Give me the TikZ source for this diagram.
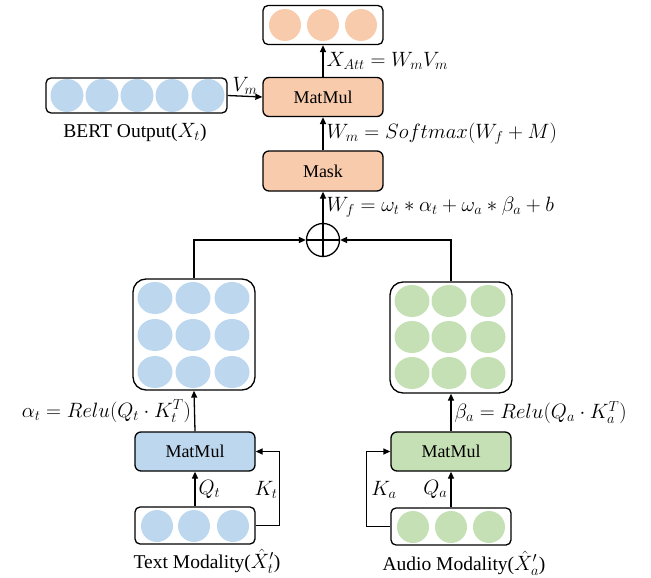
\documentclass[tikz,border=0pt]{standalone}
\usepackage{fontspec}
\setmainfont{Liberation Serif}
\usetikzlibrary{arrows.meta}
\definecolor{orng}{HTML}{F8CBAD}
\definecolor{blu}{HTML}{BDD7EE}
\definecolor{grn}{HTML}{C5E0B4}
\begin{document}
\begin{tikzpicture}[x=1pt,y=-1pt,
  box/.style={draw, line width=1.3pt, rounded corners=6pt, minimum width=120pt, minimum height=39pt, inner sep=0pt, font=\fontsize{18}{21}\selectfont},
  vec/.style={draw, line width=1.3pt, rounded corners=5pt, minimum width=120pt, minimum height=37pt, inner sep=0pt},
  matb/.style={draw, line width=1.3pt, rounded corners=13pt, minimum width=122pt, minimum height=111pt, inner sep=0pt},
  arr/.style={line width=1.3pt, -{Triangle[length=7pt,width=6pt]}},
  lab/.style={font=\fontsize{19.5}{22}\selectfont},
  mlab/.style={font=\fontsize{21}{24}\selectfont, inner sep=3pt}]
\useasboundingbox (0,0) rectangle (651,578);
% top output
\node[vec, minimum height=39pt] (out) at (323,25) {};
\foreach \x in {285,323,361} \fill[orng] (\x,25) circle (16pt);
% top matmul
\node[box, fill=orng] (mm) at (323,97) {MatMul};
% BERT
\node[vec, minimum width=181pt, minimum height=35pt] (bert) at (136.5,95.5) {};
\foreach \x in {67,102,137,172,208} \fill[blu] (\x,95.5) circle (16.5pt);
\node[lab] (bertl) at (135,132) {BERT Output($X_t$)};
% mask
\node[box, fill=orng, minimum height=40pt] (mask) at (323,171) {Mask};
% oplus
\node[circle, draw, line width=1.3pt, minimum size=33pt, inner sep=0pt] (plus) at (323,240) {};
\draw[line width=1.3pt] (plus.north) -- (plus.south) (plus.west) -- (plus.east);
% matrices
\node[matb] (tmat) at (194,334.5) {};
\foreach \x in {155,193,232} \foreach \y in {298,335,372} \fill[blu] (\x,\y) ellipse (17.5pt and 16pt);
\node[matb] (amat) at (451,337.5) {};
\foreach \x in {412,449,488} \foreach \y in {301,337,373} \fill[grn] (\x,\y) ellipse (17.5pt and 16pt);
% text branch
\node[box, fill=blu] (tmm) at (195,451.5) {MatMul};
\node[vec] (tin) at (195,525.5) {};
\foreach \x in {157,194,233} \fill[blu] (\x,526) circle (16pt);
\node[lab] (tinl) at (207,561) {Text Modality($\hat{X}_t'$)};
% audio branch
\node[box, fill=grn] (amm) at (451,451.5) {MatMul};
\node[vec] (ain) at (451,526.5) {};
\foreach \x in {413,451,489} \fill[grn] (\x,527) circle (16pt);
\node[lab] (ainl) at (464,563) {Audio Modality($\hat{X}_a'$)};
% connectors
\draw[arr] (mm.north) -- (out.south) node[midway, right, mlab] {$X_{Att}=W_mV_m$};
\draw[arr] (bert.east) -- (mm.west) node[midway, above, mlab, inner sep=1pt] {$V_m$};
\draw[arr] (mask.north) -- (mm.south) node[midway, right, mlab] {$W_m=Softmax(W_f+M)$};
\draw[arr] (plus.north) -- (mask.south) node[midway, right, mlab] {$W_f=\omega_t*\alpha_t+\omega_a*\beta_a+b$};
\draw[arr] (tmat.north) |- (plus.west);
\draw[arr] (amat.north) |- (plus.east);
\draw[arr] (tmm.north) -- (tmat.south) node[midway, left, mlab] {$\alpha_t=Relu(Q_t\cdot K_t^T)$};
\draw[arr] (amm.north) -- (amat.south) node[midway, right, mlab] {$\beta_a=Relu(Q_a\cdot K_a^T)$};
\draw[arr] (tin.north) -- (tmm.south) node[midway, right, mlab] {$Q_t$};
\draw[arr] (ain.north) -- (amm.south) node[midway, left, mlab] {$Q_a$};
\draw[arr] (tin.east) -- ++(24,0) coordinate (kt) |- (tmm.east);
\node[mlab] (ktl) at (266,490) {$K_t$};
\draw[arr] (ain.west) -- ++(-24,0) coordinate (ka) |- (amm.west);
\node[mlab] (kal) at (384,490) {$K_a$};
\end{tikzpicture}
\end{document}
